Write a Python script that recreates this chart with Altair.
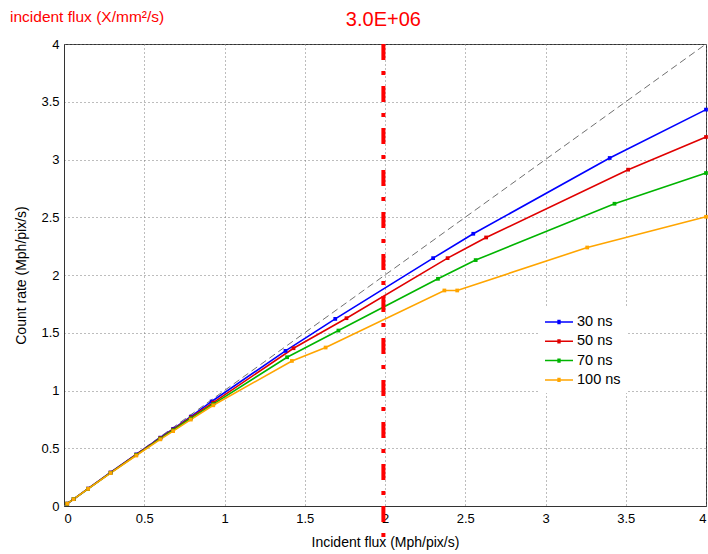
import altair as alt
import pandas as pd

# ---- data ----
series_names = ["30 ns", "50 ns", "70 ns", "100 ns"]
series_colors = ["#0000FF", "#E00000", "#00B400", "#FFA500"]

x_30 = [0.02, 0.06, 0.15, 0.29, 0.45, 0.60, 0.68, 0.79, 0.92, 1.38, 1.69, 2.30, 2.55, 3.40, 4.00]
y_30 = [0.02, 0.06, 0.15, 0.29, 0.447, 0.592, 0.668, 0.774, 0.905, 1.343, 1.620, 2.146, 2.357, 3.013, 3.432]

x_50 = [0.02, 0.06, 0.15, 0.29, 0.45, 0.60, 0.68, 0.79, 0.93, 1.43, 1.76, 2.39, 2.63, 3.515, 4.00]
y_50 = [0.02, 0.06, 0.15, 0.289, 0.444, 0.588, 0.662, 0.767, 0.895, 1.366, 1.626, 2.146, 2.325, 2.912, 3.195]

x_70 = [0.02, 0.06, 0.15, 0.29, 0.45, 0.60, 0.68, 0.79, 0.93, 1.39, 1.71, 2.33, 2.565, 3.43, 4.00]
y_70 = [0.02, 0.06, 0.149, 0.287, 0.441, 0.583, 0.656, 0.758, 0.882, 1.288, 1.519, 1.967, 2.129, 2.617, 2.883]

x_100 = [0.02, 0.06, 0.15, 0.29, 0.45, 0.60, 0.68, 0.79, 0.93, 1.42, 1.63, 2.37, 2.45, 3.26, 4.00]
y_100 = [0.02, 0.059, 0.148, 0.285, 0.437, 0.577, 0.648, 0.748, 0.872, 1.256, 1.372, 1.866, 1.866, 2.238, 2.504]

diag_x = [0, 4]
diag_y = [0, 4]

flux_marker_x = [1.99]
flux_marker_label = ["3.0E+06"]
top_label = ["incident flux (X/mm²/s)"]

x_ticks = [0, 0.5, 1, 1.5, 2, 2.5, 3, 3.5, 4]
y_ticks = [0, 0.5, 1, 1.5, 2, 2.5, 3, 3.5, 4]

# ---- build tables ----
rows = []
for name, xs, ys in zip(series_names, [x_30, x_50, x_70, x_100], [y_30, y_50, y_70, y_100]):
    for xv, yv in zip(xs, ys):
        rows.append({"series": name, "x": xv, "y": yv})
df = pd.DataFrame(rows)
diag = pd.DataFrame({"x": diag_x, "y": diag_y})
vline = pd.DataFrame({"x": flux_marker_x, "label": flux_marker_label})
toptxt = pd.DataFrame({"t": top_label})

FONT = "Liberation Sans"
W, H = 642, 462

xscale = alt.Scale(domain=[0, 4], nice=False, zero=False)
yscale = alt.Scale(domain=[0, 4], nice=False, zero=False)
cscale = alt.Scale(domain=series_names, range=series_colors)

# legend symbol: a line with a small block (marker) in the middle, stroke only
legend_symbol = "M-2,0H2 M-0.24,-0.2H0.24 M-0.24,0.2H0.24"

legend_def = alt.Legend(
    title=None,
    orient="none",
    legendX=474,
    legendY=264,
    symbolType=legend_symbol,
    symbolSize=196,
    symbolStrokeWidth=1.5,
    symbolOffset=7,
    labelFontSize=14.5,
    labelFont=FONT,
    labelColor="#000",
    labelOffset=10,
    fillColor="white",
    padding=6,
    rowPadding=4.3,
)
color_enc = alt.Color("series:N", scale=cscale, sort=series_names, legend=legend_def)

xax = alt.X(
    "x:Q",
    scale=xscale,
    axis=alt.Axis(values=x_ticks, title="Incident flux (Mph/pix/s)", labelExpr="datum.value"),
)
yax = alt.Y(
    "y:Q",
    scale=yscale,
    axis=alt.Axis(values=y_ticks, title="Count rate (Mph/pix/s)", labelExpr="datum.value"),
)

diag_layer = alt.Chart(diag).mark_line(
    color="#707070", strokeWidth=1, strokeDash=[7, 4]
).encode(x=xax, y=yax)

lines = alt.Chart(df).mark_line(strokeWidth=1.6).encode(
    x=xax, y=yax, color=color_enc, order="x:Q"
)
points = alt.Chart(df).mark_point(
    filled=True, shape="square", size=14, opacity=1
).encode(x=xax, y=yax, color=color_enc)

rule = alt.Chart(vline).mark_rule(
    color="#FF0000", strokeWidth=4, strokeDash=[16, 11, 4, 11]
).encode(x=alt.X("x:Q", scale=xscale), y=alt.value(0), y2=alt.value(H + 40))

flux_text = alt.Chart(vline).mark_text(
    color="#FF0000", fontSize=20, font=FONT, align="center", baseline="alphabetic"
).encode(x=alt.X("x:Q", scale=xscale), y=alt.value(-18), text="label:N")

top_text = alt.Chart(toptxt).mark_text(
    color="#FF0000", fontSize=15.5, font=FONT, align="left", baseline="alphabetic"
).encode(x=alt.value(-54), y=alt.value(-22), text="t:N")

chart = (
    alt.layer(diag_layer, lines, points, rule, flux_text, top_text)
    .properties(
        width=W,
        height=H,
        autosize=alt.AutoSizeParams(type="none"),
        padding={"left": 64, "top": 44, "right": 2, "bottom": 48},
    )
    .configure_view(stroke="#333333", strokeWidth=1)
    .configure_axis(
        grid=True,
        gridDash=[1, 3],
        gridColor="#7a7a7a",
        gridOpacity=1,
        gridWidth=1,
        domain=True,
        domainColor="#333333",
        ticks=False,
        labelFont=FONT,
        labelFontSize=13,
        labelColor="#000",
        titleFont=FONT,
        titleFontSize=14,
        titleFontWeight="normal",
        titleColor="#000",
    )
    .configure_axisX(labelPadding=6, titlePadding=10)
    .configure_axisY(labelPadding=5, titlePadding=12)
)

chart.save("out.html", embed_options={"renderer": "svg", "actions": False})
